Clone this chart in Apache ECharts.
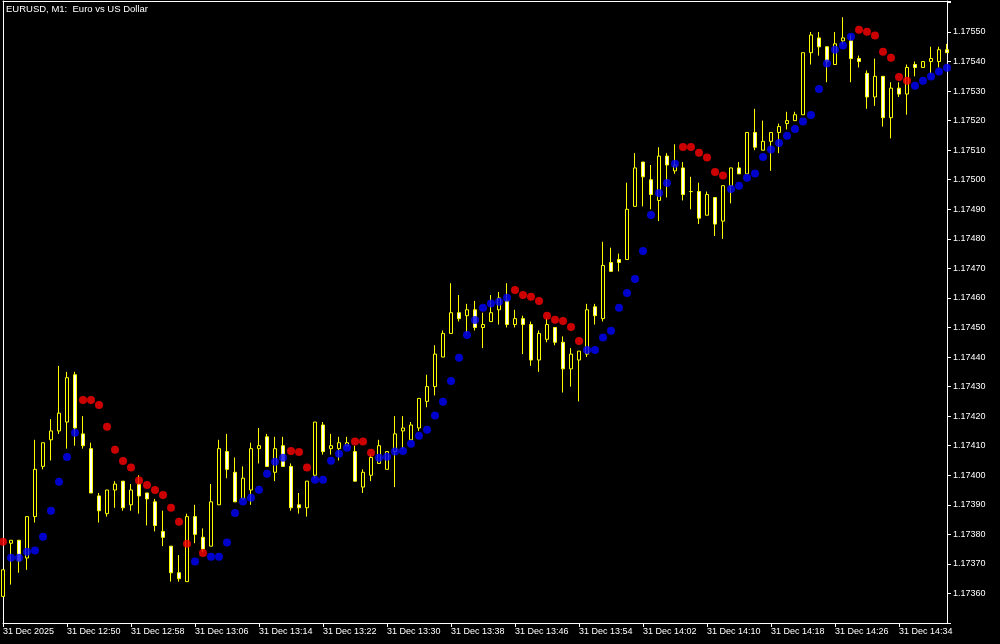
<!DOCTYPE html>
<html>
<head>
<meta charset="utf-8">
<script src="https://cdn.jsdelivr.net/npm/echarts@6/dist/echarts.min.js"></script>
<style>
html,body{margin:0;padding:0;background:#000;}
#main{width:1000px;height:644px;}
</style>
</head>
<body>
<div id="main"></div>
<script>
// ---- data (EURUSD M1, 31 Dec 2025, from 12:42) ----
var startTime = '12:42';
var tickLabels = ['31 Dec 2025','31 Dec 12:50','31 Dec 12:58','31 Dec 13:06','31 Dec 13:14','31 Dec 13:22','31 Dec 13:30','31 Dec 13:38','31 Dec 13:46','31 Dec 13:54','31 Dec 14:02','31 Dec 14:10','31 Dec 14:18','31 Dec 14:26','31 Dec 14:34'];
var priceTicks = [1.17360,1.17370,1.17380,1.17390,1.17400,1.17410,1.17420,1.17430,1.17440,1.17450,1.17460,1.17470,1.17480,1.17490,1.17500,1.17510,1.17520,1.17530,1.17540,1.17550];

var open = [1.17359,1.17377,1.17378,1.17372,1.17386,1.17403,1.17412,1.17415,1.17418,1.17434,
1.17414,1.17409,1.17393,1.17387,1.17395,1.17398,1.17390,1.17397,1.17394,1.17391,
1.17381,1.17376,1.17367,1.17364,1.17386,1.17379,1.17376,1.17390,1.17408,1.17401,
1.17392,1.17395,1.17409,1.17413,1.17401,1.17410,1.17403,1.17390,1.17389,1.17400,
1.17417,1.17409,1.17409,1.17410,1.17408,1.17396,1.17400,1.17404,1.17402,1.17408,
1.17415,1.17412,1.17416,1.17425,1.17430,1.17440,1.17448,1.17455,1.17454,1.17456,
1.17450,1.17452,1.17456,1.17459,1.17451,1.17453,1.17451,1.17439,1.17446,1.17450,
1.17445,1.17436,1.17439,1.17441,1.17457,1.17453,1.17472,1.17473,1.17473,1.17491,
1.17506,1.17500,1.17493,1.17508,1.17503,1.17504,1.17496,1.17496,1.17488,1.17494,
1.17486,1.17498,1.17504,1.17502,1.17516,1.17510,1.17513,1.17516,1.17519,1.17520,
1.17522,1.17543,1.17548,1.17545,1.17539,1.17547,1.17547,1.17541,1.17536,1.17528,
1.17535,1.17521,1.17531,1.17529,1.17539,1.17538,1.17540,1.17540,1.17544];

var close = [1.17368,1.17378,1.17371,1.17386,1.17402,1.17411,1.17415,1.17421,1.17433,1.17416,
1.17410,1.17394,1.17388,1.17395,1.17397,1.17389,1.17395,1.17393,1.17392,1.17383,
1.17379,1.17367,1.17365,1.17386,1.17380,1.17375,1.17391,1.17409,1.17402,1.17391,
1.17399,1.17409,1.17410,1.17403,1.17409,1.17403,1.17389,1.17389,1.17398,1.17418,
1.17408,1.17410,1.17411,1.17411,1.17398,1.17401,1.17406,1.17410,1.17408,1.17414,
1.17416,1.17417,1.17426,1.17430,1.17441,1.17448,1.17455,1.17453,1.17456,1.17450,
1.17451,1.17455,1.17460,1.17451,1.17453,1.17451,1.17439,1.17448,1.17451,1.17445,
1.17436,1.17441,1.17442,1.17456,1.17454,1.17471,1.17469,1.17472,1.17490,1.17504,
1.17501,1.17495,1.17508,1.17505,1.17505,1.17495,1.17496,1.17487,1.17495,1.17485,
1.17498,1.17504,1.17502,1.17516,1.17511,1.17513,1.17516,1.17518,1.17520,1.17522,
1.17543,1.17549,1.17545,1.17540,1.17546,1.17548,1.17541,1.17540,1.17528,1.17535,
1.17521,1.17531,1.17529,1.17538,1.17538,1.17540,1.17541,1.17544,1.17543];

var high = [1.17368,1.17378,1.17378,1.17386,1.17412,1.17411,1.17419,1.17437,1.17435,1.17435,
1.17420,1.17411,1.17394,1.17395,1.17398,1.17398,1.17397,1.17400,1.17394,1.17392,
1.17388,1.17376,1.17373,1.17387,1.17390,1.17382,1.17397,1.17412,1.17414,1.17406,
1.17403,1.17411,1.17416,1.17414,1.17413,1.17413,1.17404,1.17394,1.17398,1.17418,
1.17418,1.17414,1.17413,1.17413,1.17410,1.17402,1.17407,1.17412,1.17408,1.17420,
1.17420,1.17418,1.17426,1.17434,1.17444,1.17449,1.17465,1.17461,1.17458,1.17459,
1.17455,1.17461,1.17462,1.17465,1.17456,1.17454,1.17452,1.17449,1.17453,1.17450,
1.17447,1.17443,1.17442,1.17458,1.17458,1.17479,1.17477,1.17475,1.17499,1.17509,
1.17506,1.17505,1.17511,1.17509,1.17512,1.17506,1.17501,1.17499,1.17496,1.17494,
1.17498,1.17504,1.17506,1.17516,1.17524,1.17520,1.17516,1.17519,1.17523,1.17523,
1.17543,1.17550,1.17550,1.17545,1.17550,1.17555,1.17549,1.17542,1.17537,1.17541,
1.17535,1.17533,1.17533,1.17539,1.17540,1.17540,1.17545,1.17545,1.17546];

var low = [1.17359,1.17363,1.17367,1.17368,1.17384,1.17402,1.17405,1.17414,1.17409,1.17410,
1.17409,1.17394,1.17384,1.17386,1.17389,1.17388,1.17388,1.17387,1.17383,1.17381,
1.17376,1.17364,1.17364,1.17364,1.17377,1.17374,1.17376,1.17390,1.17399,1.17391,
1.17392,1.17390,1.17404,1.17403,1.17398,1.17403,1.17388,1.17387,1.17386,1.17399,
1.17407,1.17407,1.17405,1.17410,1.17398,1.17394,1.17398,1.17404,1.17402,1.17396,
1.17409,1.17412,1.17415,1.17423,1.17427,1.17440,1.17448,1.17452,1.17448,1.17449,
1.17443,1.17452,1.17451,1.17450,1.17450,1.17441,1.17437,1.17435,1.17445,1.17444,
1.17428,1.17430,1.17425,1.17440,1.17451,1.17452,1.17469,1.17469,1.17473,1.17491,
1.17491,1.17490,1.17486,1.17494,1.17502,1.17493,1.17490,1.17485,1.17488,1.17481,
1.17480,1.17492,1.17502,1.17502,1.17510,1.17510,1.17503,1.17509,1.17517,1.17520,
1.17522,1.17539,1.17542,1.17533,1.17539,1.17546,1.17533,1.17538,1.17524,1.17525,
1.17518,1.17514,1.17528,1.17522,1.17535,1.17538,1.17536,1.17538,1.17543];

// Parabolic SAR value per bar, and side: 1 = below price (blue), -1 = above price (red)
var sar = [1.173775,1.173721,1.173721,1.173741,1.173745,1.173792,1.173880,1.173978,1.174062,1.174144,
1.174255,1.174255,1.174238,1.174164,1.174086,1.174048,1.174026,1.173982,1.173967,1.173950,
1.173933,1.173890,1.173843,1.173768,1.173708,1.173737,1.173724,1.173724,1.173772,1.173872,
1.173911,1.173924,1.173951,1.174005,1.174046,1.174059,1.174082,1.174079,1.174026,1.173985,
1.173985,1.174049,1.174073,1.174093,1.174114,1.174114,1.174076,1.174059,1.174063,1.174080,
1.174082,1.174107,1.174134,1.174154,1.174202,1.174249,1.174319,1.174398,1.174475,1.174525,
1.174567,1.174581,1.174587,1.174601,1.174627,1.174610,1.174604,1.174590,1.174540,1.174526,
1.174522,1.174502,1.174454,1.174424,1.174424,1.174466,1.174489,1.174567,1.174617,1.174664,
1.174759,1.174881,1.174955,1.174989,1.175054,1.175111,1.175111,1.175091,1.175075,1.175026,
1.175014,1.174969,1.174980,1.175007,1.175021,1.175077,1.175102,1.175124,1.175149,1.175172,
1.175197,1.175219,1.175307,1.175393,1.175440,1.175454,1.175484,1.175508,1.175501,1.175488,
1.175433,1.175413,1.175348,1.175335,1.175318,1.175335,1.175349,1.175366,1.175379];

var sarSide = [-1,1,1,1,1,1,1,1,1,1,
-1,-1,-1,-1,-1,-1,-1,-1,-1,-1,
-1,-1,-1,-1,1,-1,1,1,1,1,
1,1,1,1,1,1,-1,-1,-1,1,
1,1,1,1,-1,-1,-1,1,1,1,
1,1,1,1,1,1,1,1,1,1,
1,1,1,1,-1,-1,-1,-1,-1,-1,
-1,-1,-1,1,1,1,1,1,1,1,
1,1,1,1,1,-1,-1,-1,-1,-1,
-1,1,1,1,1,1,1,1,1,1,
1,1,1,1,1,1,1,-1,-1,-1,
-1,-1,-1,-1,1,1,1,1,1];

// ---- build ----
var t0 = parseInt(startTime.split(':')[0],10)*60 + parseInt(startTime.split(':')[1],10);
var categories = open.map(function(_, i){
  var m = t0 + i; var h = Math.floor(m/60), mm = m%60;
  return (h<10?'0':'')+h+':'+(mm<10?'0':'')+mm;
});
var candles = open.map(function(o,i){ return [o, close[i], low[i], high[i]]; });
var sarBelow = sar.map(function(v,i){ return sarSide[i] > 0 ? v : '-'; });
var sarAbove = sar.map(function(v,i){ return sarSide[i] < 0 ? v : '-'; });

var FG = '#ffffff';
var FONT = 'Liberation Sans, Arial, sans-serif';
var yMin = 1.17350, yMax = 1.1756049;

var chart = echarts.init(document.getElementById('main'), null, {renderer:'canvas'});
chart.setOption({
  backgroundColor: '#000000',
  animation: false,
  graphic: [{
    type: 'text', left: 6, top: 4, z: 100,
    style: { text: 'EURUSD, M1:  Euro vs US Dollar', fill: FG, font: '9.5px ' + FONT }
  }],
  grid: { left: 2, right: 53, top: 1, height: 622, containLabel: false },
  xAxis: [{
    type: 'category', data: categories, boundaryGap: false, position: 'bottom',
    axisLine: { show: true, lineStyle: { color: FG, width: 1 } },
    axisTick: { show: true, interval: 7, length: 4, lineStyle: { color: FG } },
    axisLabel: {
      show: true, interval: 7, color: FG, fontFamily: FONT, fontSize: 9, align: 'left', margin: 4,
      formatter: function(v, idx){ return idx % 8 === 0 ? (tickLabels[idx/8] || '') : ''; }
    },
    splitLine: { show: false }
  },{
    type: 'category', data: categories, boundaryGap: false, position: 'top',
    axisLine: { show: true, lineStyle: { color: FG, width: 1 } },
    axisTick: { show: false }, axisLabel: { show: false }, splitLine: { show: false }
  }],
  yAxis: [{
    type: 'value', position: 'right', min: yMin, max: yMax, interval: 0.0001, scale: true,
    axisLine: { show: true, lineStyle: { color: FG, width: 1 } },
    axisTick: { show: true, length: 4, lineStyle: { color: FG } },
    axisLabel: {
      show: true, color: FG, fontFamily: FONT, fontSize: 9, margin: 6,
      formatter: function(v){
        for (var i=0;i<priceTicks.length;i++){ if (Math.abs(priceTicks[i]-v) < 1e-7) return priceTicks[i].toFixed(5); }
        return '';
      }
    },
    splitLine: { show: false }
  },{
    type: 'value', position: 'left', min: yMin, max: yMax, interval: 0.0001,
    axisLine: { show: true, lineStyle: { color: FG, width: 1 } },
    axisTick: { show: false }, axisLabel: { show: false }, splitLine: { show: false }
  }],
  series: [{
    type: 'candlestick', data: candles, xAxisIndex: 0, yAxisIndex: 0,
    barWidth: 4, clip: true,
    itemStyle: {
      color: '#000000', color0: '#ffffff',
      borderColor: '#ffff00', borderColor0: '#ffff00', borderColorDoji: '#ffff00',
      borderWidth: 1
    }
  },{
    type: 'scatter', data: sarBelow, xAxisIndex: 0, yAxisIndex: 0,
    symbol: 'circle', symbolSize: 8, clip: true,
    itemStyle: { color: '#0000ff' }
  },{
    type: 'scatter', data: sarAbove, xAxisIndex: 0, yAxisIndex: 0,
    symbol: 'circle', symbolSize: 8, clip: true,
    itemStyle: { color: '#ff0000' }
  }]
});
</script>
</body>
</html>
